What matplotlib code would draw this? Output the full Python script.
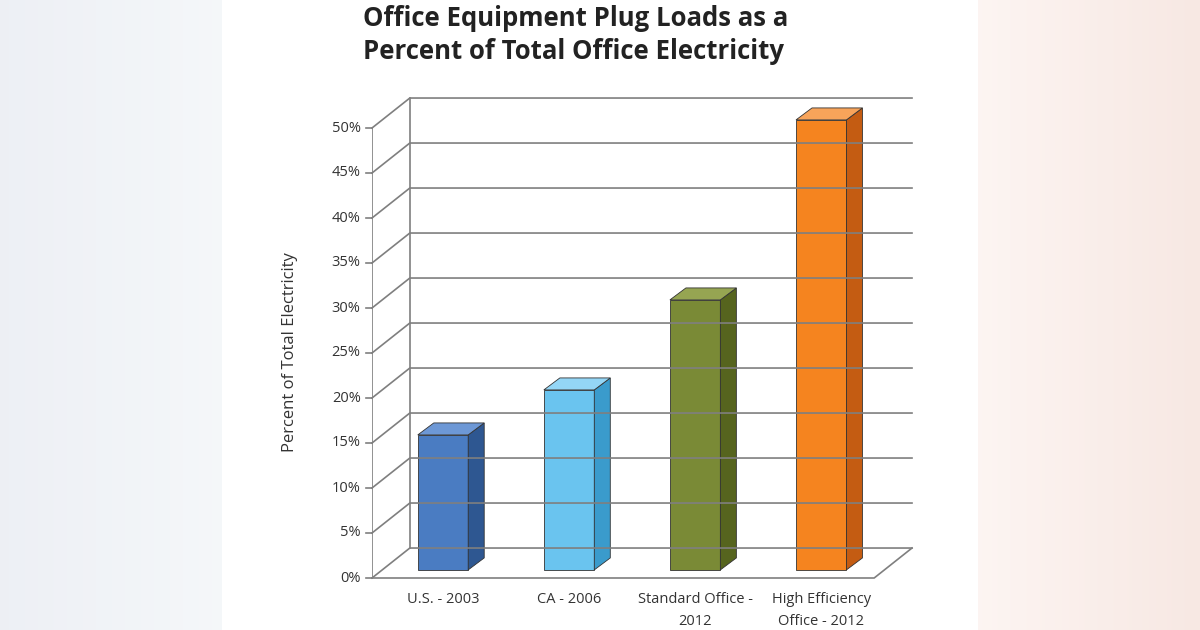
import numpy as np
import matplotlib.pyplot as plt
from matplotlib.patches import Polygon

categories = ['U.S. - 2003', 'CA - 2006', 'Standard Office -\n2012', 'High Efficiency\nOffice - 2012']
values = [15, 20, 30, 50]
front_colors = ['#4a7cc2', '#6ac4ef', '#7a8a36', '#f5841f']
side_colors = ['#2e5791', '#3a9bcc', '#56641e', '#c45c12']
top_colors = ['#6d98d6', '#94d6f6', '#96a552', '#f8a45a']
yticks = list(range(0, 55, 5))

fig = plt.figure(figsize=(12, 6.3), dpi=100)

# blurred side background with white centre panel
bg = fig.add_axes([0, 0, 1, 1])
bg.set_axis_off()
w = 1200
img = np.ones((1, w, 3))
left = np.array([0.93, 0.94, 0.96])
right = np.array([0.97, 0.91, 0.89])
for i in range(222):
    img[0, i] = left + (np.array([0.96, 0.97, 0.98]) - left) * i / 222
for i in range(978, w):
    t = (i - 978) / (w - 978)
    img[0, i] = np.array([0.99, 0.96, 0.95]) * (1 - t) + right * t
bg.imshow(img, aspect='auto', extent=[0, 1, 0, 1])
bg.set_xlim(0, 1)
bg.set_ylim(0, 1)

xmin, xmax = -0.563, 3.72
ax = fig.add_axes([372 / 1200, 52 / 630, 540 / 1200, 495 / 630])
ax.set_xlim(xmin, xmax)
ax.set_ylim(0, 55)
ax.set_axis_off()
ax.patch.set_alpha(0)

gdx, gdy = 0.30, 3.33
gc = '#7f7f7f'
for v in yticks:
    ax.plot([xmin, xmin + gdx, xmax], [v, v + gdy, v + gdy], color=gc, lw=1.2, clip_on=False)
    ax.plot([xmin - 0.05, xmin], [v, v], color=gc, lw=1.2, clip_on=False)
    ax.text(xmin - 0.09, v, f'{v}%', ha='right', va='center', fontsize=10.5, color='#333333', family='Open Sans')
ax.plot([xmin, xmin], [0, 50], color=gc, lw=1.2)
ax.plot([xmin + gdx, xmin + gdx], [gdy, 50 + gdy], color=gc, lw=1.2)
ax.plot([xmin, xmax - gdx, xmax], [0, 0, gdy], color=gc, lw=1.2, clip_on=False)

# bars sit slightly behind the front edge of the floor
bw, ddx, ddy, base = 0.40, 0.127, 1.33, 0.9
for i, (v, fc, sc, tc) in enumerate(zip(values, front_colors, side_colors, top_colors)):
    x0, x1 = i - bw / 2, i + bw / 2
    b, t = base, v + base
    ax.add_patch(Polygon([(x0, b), (x1, b), (x1, t), (x0, t)], closed=True, fc=fc, ec='#333333', lw=0.6))
    ax.add_patch(Polygon([(x1, b), (x1 + ddx, b + ddy), (x1 + ddx, t + ddy), (x1, t)], closed=True, fc=sc, ec='#333333', lw=0.6))
    ax.add_patch(Polygon([(x0, t), (x1, t), (x1 + ddx, t + ddy), (x0 + ddx, t + ddy)], closed=True, fc=tc, ec='#333333', lw=0.6))
    ax.text(i, -1.6, categories[i], ha='center', va='top', fontsize=10.5, color='#333333',
            family='Open Sans', linespacing=1.6)

fig.text(290 / 1200, 1 - 352 / 630, 'Percent of Total Electricity', rotation=90, ha='center', va='center',
         fontsize=12, color='#333333', family='Open Sans')
fig.text(363 / 1200, 1 - 35 / 630, 'Office Equipment Plug Loads as a\nPercent of Total Office Electricity',
         ha='left', va='center', fontsize=18.5, fontweight='bold', color='#222222',
         family='Open Sans', linespacing=1.25)

fig.savefig('out.png', dpi=100)
